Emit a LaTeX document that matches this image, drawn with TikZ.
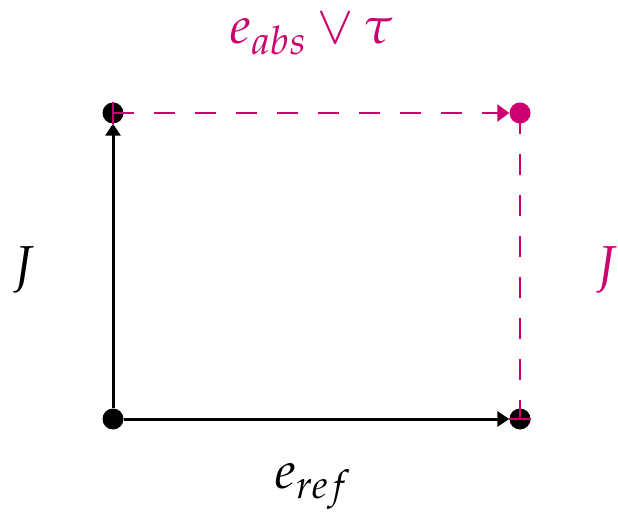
\documentclass[tikz,border=0pt]{standalone}
\usepackage{mathpazo}
\usetikzlibrary{arrows.meta}
\definecolor{mag}{RGB}{204,0,110}
\begin{document}
\begin{tikzpicture}[x=1pt,y=-1pt,
  dot/.style={circle,fill=black,inner sep=0pt,minimum size=21pt},
  magdot/.style={circle,fill=mag,inner sep=0pt,minimum size=21pt},
  solidedge/.style={line width=3pt,-{Triangle[length=12pt,width=15pt]}},
  magedge/.style={mag,line width=2.5pt,dash pattern=on 21pt off 20pt},
  lbl/.style={font=\fontsize{52}{62}\selectfont,inner sep=0pt}]
\useasboundingbox (0,0) rectangle (618,521);
\node[dot] (a) at (113,419) {};
\node[dot] (b) at (113,113) {};
\node[magdot] (c) at (520,113) {};
\node[dot] (d) at (520,419) {};
\draw[solidedge] (a) -- (b);
\draw[solidedge] (a) -- (d);
\draw[magedge,-{Triangle[length=12pt,width=17pt]}] (b.center) -- (c);
\draw[magedge] (c.center) -- (d.center);
\draw[mag,line width=2.5pt] (b.north) -- (b.south);
\draw[mag,line width=2.5pt] (d.west) -- (d.east);
\node[lbl,text=mag,anchor=base] (t) at (312,44) {$e_{abs}\vee\tau$};
\node[lbl,anchor=base] (bl) at (313,488) {$e_{ref}$};
\node[lbl,anchor=base] (l) at (24,283) {$J$};
\node[lbl,text=mag,anchor=base] (r) at (606,283) {$J$};
\end{tikzpicture}
\end{document}
